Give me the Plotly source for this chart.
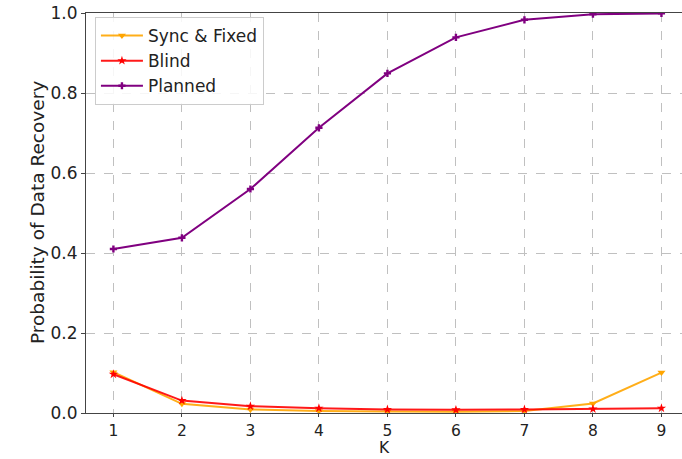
import plotly.graph_objects as go

K = [1, 2, 3, 4, 5, 6, 7, 8, 9]
sync_fixed = [0.102, 0.023, 0.009, 0.005, 0.004, 0.003, 0.005, 0.024, 0.101]
blind = [0.097, 0.031, 0.017, 0.012, 0.009, 0.008, 0.009, 0.010, 0.012]
planned = [0.410, 0.438, 0.560, 0.713, 0.849, 0.939, 0.983, 0.997, 0.999]

font = "DejaVu Sans"
fig = go.Figure()
fig.add_trace(go.Scatter(x=K, y=sync_fixed, name="Sync & Fixed", mode="lines+markers",
                         line=dict(color="rgba(255,165,0,0.9)", width=2),
                         marker=dict(symbol="triangle-down", size=7, color="orange")))
fig.add_trace(go.Scatter(x=K, y=blind, name="Blind", mode="lines+markers",
                         line=dict(color="rgba(255,0,0,0.9)", width=2),
                         marker=dict(symbol="star", size=7, color="red")))
fig.add_trace(go.Scatter(x=K, y=planned, name="Planned", mode="lines+markers",
                         line=dict(color="purple", width=2),
                         marker=dict(symbol="cross", size=6, color="purple")))

fig.update_layout(
    width=682, height=459,
    margin=dict(l=86, r=0, t=13, b=46),
    paper_bgcolor="white", plot_bgcolor="white",
    font=dict(family=font, size=17, color="#222222"),
    showlegend=True,
    legend=dict(x=0.015, y=0.99, xanchor="left", yanchor="top",
                bgcolor="rgba(255,255,255,0.85)", bordercolor="#cccccc", borderwidth=1,
                font=dict(family=font, size=17, color="#222222"),
                tracegroupgap=0, itemwidth=42),
    annotations=[
        dict(text="K", xref="paper", yref="paper", x=0.5, y=-0.1135,
             xanchor="center", yanchor="bottom", showarrow=False, borderpad=0,
             font=dict(family=font, size=15.5, color="#222222")),
        dict(text="Probability of Data Recovery", xref="paper", yref="paper",
             x=-0.0822, y=0.5, xanchor="center", yanchor="middle", textangle=-90,
             showarrow=False, font=dict(family=font, size=18.5, color="#222222")),
    ],
)
fig.update_xaxes(
    range=[0.6, 9.3], tickmode="array", tickvals=K, ticktext=[str(k) for k in K],
    showgrid=True, gridcolor="#c0c0c0", griddash="dash", gridwidth=1,
    showline=True, linecolor="#444444", linewidth=1.2, mirror=True,
    ticks="outside", ticklen=3, tickcolor="#444444",
    tickfont=dict(family=font, size=15.5),
    zeroline=False,
)
fig.update_yaxes(
    range=[0, 1.0], tickmode="array", tickvals=[0, 0.2, 0.4, 0.6, 0.8, 1.0],
    ticktext=["0.0", "0.2", "0.4", "0.6", "0.8", "1.0"],
    showgrid=True, gridcolor="#c0c0c0", griddash="dash", gridwidth=1,
    showline=True, linecolor="#444444", linewidth=1.2, mirror=False,
    ticks="outside", ticklen=4, tickcolor="#444444",
    tickfont=dict(family=font, size=17),
    zeroline=False,
)
fig.write_html("out.html")
